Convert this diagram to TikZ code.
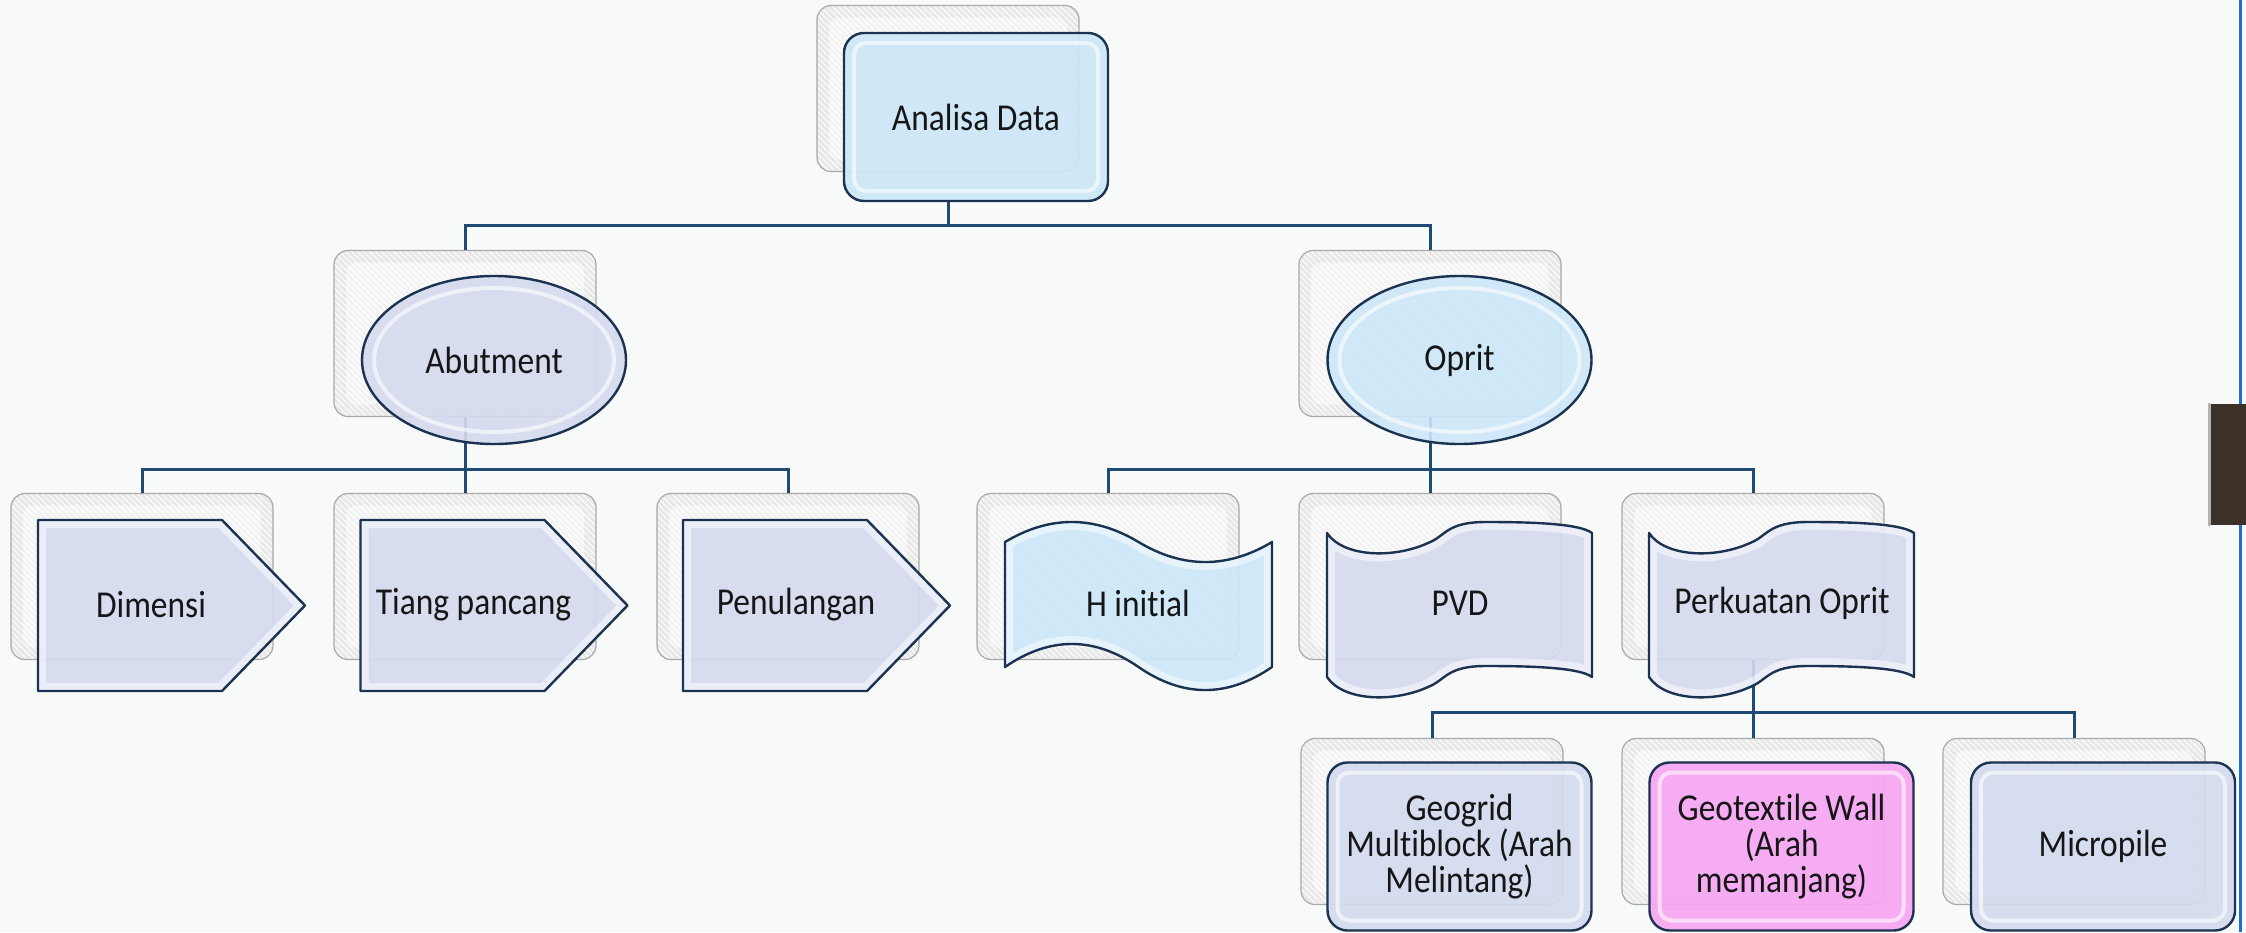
\documentclass[tikz,border=0pt]{standalone}
\usepackage{fontspec}
\setmainfont[FakeStretch=0.88,Ligatures=NoCommon]{Carlito}
\usetikzlibrary{shapes.geometric,patterns}
\definecolor{bg}{HTML}{F8F9F9}
\definecolor{navy}{HTML}{1B3350}
\definecolor{conncol}{HTML}{1F4A75}
\definecolor{lav}{HTML}{D4DBEF}
\definecolor{sky}{HTML}{CCE7F8}
\definecolor{pinkf}{HTML}{F7A6F2}
\definecolor{backf}{HTML}{E8E8E8}
\definecolor{backl}{HTML}{A9A9A9}
\definecolor{txt}{HTML}{161616}
\definecolor{rblue}{HTML}{1E6FD0}
\definecolor{brownd}{HTML}{3B3128}
\tikzset{
  backbox/.style={draw=backl, line width=0.6pt, rounded corners=7pt,
    minimum width=131pt, minimum height=83pt, inner sep=0pt,
    preaction={fill=backf}, pattern=north west lines, pattern color=white,
    path picture={\fill[white, fill opacity=0.5, rounded corners=5pt]
      ([shift={(6pt,-6pt)}]path picture bounding box.north west) rectangle
      ([shift={(-6pt,6pt)}]path picture bounding box.south east);}},
  conn/.style={draw=conncol, line width=1.5pt},
  lbl/.style={text=txt, font=\fontsize{19}{18}\selectfont, align=center, inner sep=0pt},
  frontbox/.style={lbl, draw=navy, line width=1.2pt, rounded corners=10pt,
    minimum width=132pt, minimum height=84pt, fill opacity=0.92, text opacity=1,
    path picture={\draw[white, draw opacity=0.6, line width=2pt, rounded corners=6pt]
      ([shift={(5pt,-5pt)}]path picture bounding box.north west) rectangle
      ([shift={(-5pt,5pt)}]path picture bounding box.south east);}},
  frontell/.style={lbl, ellipse, draw=navy, line width=1.2pt,
    minimum width=132pt, minimum height=84pt, fill opacity=0.9, text opacity=1,
    path picture={\draw[white, draw opacity=0.6, line width=2pt]
      (path picture bounding box.center) ellipse [x radius=60pt, y radius=36pt];}},
  shapefill/.style={fill=#1, fill opacity=0.9},
  shapeedge/.style={draw=navy, line width=1.2pt, line join=round},
  bevel/.style={draw=white, draw opacity=0.5, line width=8pt}
}
\def\pentP#1{(#1,520) -- ++(184,0) -- ++(83,85.5) -- ++(-83,85.5) -- ++(-184,0) -- cycle}
\def\waveP#1{(#1,542) .. controls (#1+44.5,515.3) and (#1+89,515.3) .. (#1+133.5,542)
  .. controls (#1+178,568.7) and (#1+222.5,568.7) .. (#1+267,542) -- (#1+267,667)
  .. controls (#1+222.5,697.7) and (#1+178,697.7) .. (#1+133.5,667)
  .. controls (#1+89,636.3) and (#1+44.5,636.3) .. (#1,667) -- cycle}
\def\tapeP#1{(#1,533) .. controls (#1+16,557) and (#1+66,559) .. (#1+101,543)
  .. controls (#1+119,536) and (#1+119,522) .. (#1+159,522)
  .. controls (#1+199,522) and (#1+252,523) .. (#1+265,533) -- (#1+265,677)
  .. controls (#1+252,667) and (#1+199,666) .. (#1+159,666)
  .. controls (#1+119,666) and (#1+119,680) .. (#1+101,687)
  .. controls (#1+66,703) and (#1+16,701) .. (#1,677) -- cycle}
\begin{document}
\begin{tikzpicture}[x=0.5pt,y=-0.5pt]
\useasboundingbox (0,0) rectangle (2246,932);
\fill[bg] (0,0) rectangle (2246,932);
% right edge
\draw[rblue, line width=1.5pt] (2240,0) -- (2240,932);
\fill[brownd] (2209,404) rectangle (2246,525);
\draw[gray!60, line width=1.5pt, line cap=round] (2209,404) -- (2209,525);
% back boxes
\node[backbox] (bA) at (948,88.5) {};
\node[backbox] (bAb) at (465,333.5) {};
\node[backbox] (bOp) at (1430,333.5) {};
\node[backbox] (bD) at (142,576.5) {};
\node[backbox] (bT) at (465,576.5) {};
\node[backbox] (bP) at (788,576.5) {};
\node[backbox] (bH) at (1108,576.5) {};
\node[backbox] (bV) at (1430,576.5) {};
\node[backbox] (bK) at (1753,576.5) {};
\node[backbox] (bG) at (1432,821.5) {};
\node[backbox] (bX) at (1753,821.5) {};
\node[backbox] (bM) at (2074,821.5) {};
% level 1 front
\node[frontbox, fill=sky] (fA) at (976,117) {Analisa Data};
% connectors
\coordinate (j1) at (948,225);
\coordinate (j2) at (465,469);
\coordinate (j3) at (1430,469);
\coordinate (j4) at (1753,712);
\draw[conn] (bA |- fA.south) -- (j1);
\draw[conn] (bAb.north) |- (j1) -| (bOp.north);
\draw[conn] (bAb.south) -- (j2);
\draw[conn] (bD.north) |- (j2) -| (bP.north);
\draw[conn] (j2) -- (bT.north);
\draw[conn] (bOp.south) -- (j3);
\draw[conn] (bH.north) |- (j3) -| (bK.north);
\draw[conn] (j3) -- (bV.north);
\draw[conn] (bK.south) -- (j4);
\draw[conn] (bG.north) |- (j4) -| (bM.north);
\draw[conn] (j4) -- (bX.north);
% level 2
\node[frontell, fill=lav] (fAb) at (494,360) {Abutment};
\node[frontell, fill=sky] (fOp) at (1459.5,360) {Oprit};
% level 3 pentagons
\foreach \x/\n/\t in {38/fD/Dimensi, 360.5/fT/Tiang pancang, 683/fP/Penulangan}{
  \fill[shapefill=lav] \pentP{\x};
  \begin{scope}\clip \pentP{\x}; \draw[bevel] \pentP{\x}; \end{scope}
  \draw[shapeedge] \pentP{\x};
  \node[lbl] (\n) at (\x+113,605) {\t};
}
% H initial
\fill[shapefill=sky] \waveP{1005};
\begin{scope}\clip \waveP{1005}; \draw[bevel] \waveP{1005}; \end{scope}
\draw[shapeedge] \waveP{1005};
\node[lbl] (fH) at (1138,603) {H initial};
% PVD, Perkuatan Oprit
\foreach \x/\n/\t in {1327/fV/PVD, 1649/fK/Perkuatan Oprit}{
  \fill[shapefill=lav] \tapeP{\x};
  \begin{scope}\clip \tapeP{\x}; \draw[bevel] \tapeP{\x}; \end{scope}
  \draw[shapeedge] \tapeP{\x};
  \node[lbl] (\n) at (\x+133,603) {\t};
}
% level 4
\node[frontbox, fill=lav] (fG) at (1459.5,846.5) {Geogrid\\Multiblock (Arah\\Melintang)};
\node[frontbox, fill=pinkf] (fX) at (1781.5,846.5) {Geotextile Wall\\(Arah\\memanjang)};
\node[frontbox, fill=lav] (fM) at (2103,846.5) {Micropile};
\end{tikzpicture}
\end{document}
